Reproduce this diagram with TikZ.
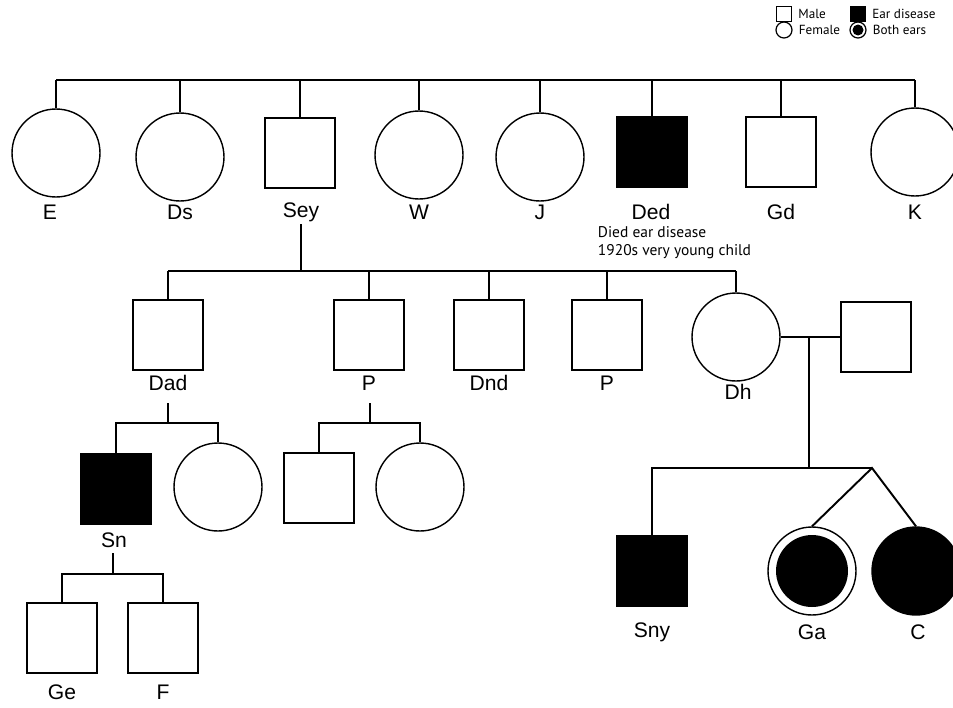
\documentclass[tikz,border=0pt]{standalone}
\usepackage{fontspec}
\setmainfont{Liberation Sans}
\newfontfamily\notefont{PT Sans}
\begin{document}
\begin{tikzpicture}[x=0.02cm, y=-0.02cm, line width=1.1pt,
    male/.style={draw, rectangle, line width=0.8pt, minimum size=1.4cm, inner sep=0pt},
    female/.style={draw, circle, line width=0.8pt, minimum size=1.76cm, inner sep=0pt},
    sick/.style={fill=black},
    bothears/.style={path picture={\fill[black] (path picture bounding box.center) circle (0.72cm);}},
    who/.style={font=\fontsize{12}{14}\selectfont, inner sep=0pt},
    note/.style={font=\notefont\fontsize{7.5}{9.6}\selectfont, align=left, inner sep=0pt},
    keybox/.style={draw, rectangle, line width=0.7pt, minimum size=0.3cm, inner sep=0pt},
    keyring/.style={draw, circle, line width=0.7pt, minimum size=0.32cm, inner sep=0pt}]
    \useasboundingbox (0,0) rectangle (953,707);
    % legend
    \node[keybox] (kMale) at (784,14) {};
    \node[note, anchor=west] (tMale) at ([xshift=3pt]kMale.east) {Male};
    \node[keyring] (kFemale) at (784,30) {};
    \node[note, anchor=west] (tFemale) at ([xshift=3pt]kFemale.east) {Female};
    \node[keybox, sick] (kEar) at (858,14) {};
    \node[note, anchor=west] (tEar) at ([xshift=3pt]kEar.east) {Ear disease};
    \node[keyring, path picture={\fill[black] (path picture bounding box.center) circle (0.11cm);}] (kBoth) at (858,30) {};
    \node[note, anchor=west] (tBoth) at ([xshift=3pt]kBoth.east) {Both ears};
    % generation I
    \node[female] (E) at (56,153) {};
    \node[female] (Ds) at (180,157) {};
    \node[male] (Sey) at (300,153) {};
    \node[female] (W) at (419,155) {};
    \node[female] (J) at (540,157) {};
    \node[male, sick] (Ded) at (652,152) {};
    \node[male] (Gd) at (781,152) {};
    \node[female] (K) at (915,152) {};
    \node[who] (lE) at (50,212) {E};
    \node[who] (lDs) at (180,212) {Ds};
    \node[who] (lSey) at (301,212) {Sey};
    \node[who] (lW) at (419,212) {W};
    \node[who] (lJ) at (540,212) {J};
    \node[who] (lDed) at (651,212) {Ded};
    \node[who] (lGd) at (781,212) {Gd};
    \node[who] (lK) at (915,212) {K};
    \node[note, font=\notefont\fontsize{8.8}{9.8}\selectfont, anchor=north west] (nDed) at (597,226) {Died ear disease\\1920s very young child};
    \coordinate (g1) at (0,80);
    \draw (E.north |- g1) -- (K.north |- g1);
    \foreach \n in {E,Ds,Sey,W,J,Ded,Gd,K}
        \draw (\n.north) -- (\n.north |- g1);
    % generation II
    \node[male] (Dad) at (168,335) {};
    \node[male] (Pa) at (369,335) {};
    \node[male] (Dnd) at (489,335) {};
    \node[male] (Pb) at (607,335) {};
    \node[female] (Dh) at (736,337) {};
    \node[male] (DhH) at (876,337) {};
    \node[who] (lDad) at (168,383) {Dad};
    \node[who] (lPa) at (369,383) {P};
    \node[who] (lDnd) at (489,383) {Dnd};
    \node[who] (lPb) at (607,383) {P};
    \node[who] (lDh) at (738,392) {Dh};
    \coordinate (SeyD) at (301,224);
    \coordinate (g2) at (0,271);
    \draw (SeyD) -- (SeyD |- g2);
    \draw (Dad.north |- g2) -- (Dh.north |- g2);
    \foreach \n in {Dad,Pa,Dnd,Pb,Dh}
        \draw (\n.north) -- (\n.north |- g2);
    \draw (Dh.east) -- (DhH.west);
    % generation III
    \node[male, sick] (Sn) at (116,489) {};
    \node[female] (SnS) at (218,487) {};
    \node[male] (PaS) at (319,488) {};
    \node[female] (PaD) at (420,487) {};
    \node[who] (lSn) at (114,540) {Sn};
    \node[male, sick] (Sny) at (652,571) {};
    \node[female, bothears] (Ga) at (812,571) {};
    \node[female, sick] (C) at (916,571) {};
    \node[who] (lSny) at (652,632) {Sny};
    \node[who] (lGa) at (812,632) {Ga};
    \node[who] (lC) at (918,632) {C};
    \coordinate (DadD) at (168,403);
    \coordinate (PaDn) at (370,403);
    \coordinate (g3) at (0,423);
    \draw (DadD) -- (DadD |- g3);
    \draw (Sn.north) |- (SnS.north |- g3) -- (SnS.north);
    \draw (PaDn) -- (PaDn |- g3);
    \draw (PaS.north) |- (PaD.north |- g3) -- (PaD.north);
    \coordinate (DhM) at (809,337);
    \coordinate (g3r) at (0,468);
    \coordinate (twin) at (872,468);
    \draw (DhM) -- (DhM |- g3r);
    \draw (Sny.north) |- (twin);
    \draw (Ga.north) -- (twin) -- (C.north);
    % generation IV
    \node[male] (Ge) at (62,638) {};
    \node[male] (F) at (163,638) {};
    \node[who] (lGe) at (62,692) {Ge};
    \node[who] (lF) at (163,692) {F};
    \coordinate (SnD) at (113,553);
    \coordinate (g4) at (0,574);
    \draw (SnD) -- (SnD |- g4);
    \draw (Ge.north) |- (F.north |- g4) -- (F.north);
\end{tikzpicture}
\end{document}
